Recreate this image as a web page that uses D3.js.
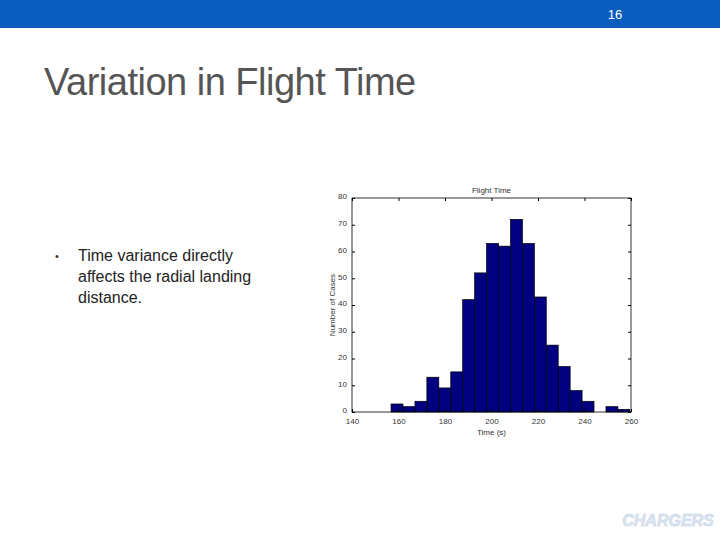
<!DOCTYPE html><html><head><meta charset="utf-8">
<script src="https://cdn.jsdelivr.net/npm/d3@7"></script>
<style>body{margin:0;background:#fff;font-family:"Liberation Sans",Arial,sans-serif}</style></head>
<body><svg id="s" width="720" height="540"></svg>
<script>
const binStart = 156.8, binWidth = 5.135;
const counts = [3,2,4,13,9,15,42,52,63,62,72,63,43,25,17,8,4,0,2,1];
const xTicks = [140,160,180,200,220,240,260];
const yTicks = [0,10,20,30,40,50,60,70,80];

const svg = d3.select("#s");
svg.append("rect").attr("width",720).attr("height",28).attr("fill","#0a5cbf");
svg.append("text").attr("x",615).attr("y",19).attr("fill","#fff").attr("font-size",13).attr("text-anchor","middle").text("16");
svg.append("text").attr("x",44).attr("y",95).attr("fill","#555").attr("font-size",38).attr("letter-spacing",-0.5).text("Variation in Flight Time");
const bl = ["Time variance directly","affects the radial landing","distance."];
svg.append("text").attr("x",55).attr("y",260).attr("font-size",11).attr("fill","#333").text("•");
bl.forEach((t,i)=>svg.append("text").attr("x",78).attr("y",261+i*21).attr("font-size",16).attr("fill","#222").text(t));

const L=352,R=631,T=198,B=412;
const x=d3.scaleLinear().domain([140,260]).range([L,R]);
const y=d3.scaleLinear().domain([0,80]).range([B,T]);
const g=svg.append("g");
g.selectAll("rect.b").data(counts).enter().append("rect")
 .attr("x",(d,i)=>x(binStart+i*binWidth)).attr("width",(d,i)=>x(binStart+(i+1)*binWidth)-x(binStart+i*binWidth))
 .attr("y",d=>y(d)).attr("height",d=>B-y(d)).attr("fill","#000080").attr("stroke","#000").attr("stroke-width",0.7);
g.append("rect").attr("x",L).attr("y",T).attr("width",R-L).attr("height",B-T).attr("fill","none").attr("stroke","#000").attr("stroke-width",0.8);
const xa=svg.append("g").attr("transform",`translate(0,${B})`).call(d3.axisBottom(x).tickValues(xTicks).tickSizeInner(-3).tickSizeOuter(0).tickPadding(6));
const xt=svg.append("g").attr("transform",`translate(0,${T})`).call(d3.axisTop(x).tickValues(xTicks).tickSizeInner(-3).tickSizeOuter(0).tickFormat(""));
const ya=svg.append("g").attr("transform",`translate(${L},0)`).call(d3.axisLeft(y).tickValues(yTicks).tickSizeInner(-3).tickSizeOuter(0).tickPadding(5));
const yr=svg.append("g").attr("transform",`translate(${R},0)`).call(d3.axisRight(y).tickValues(yTicks).tickSizeInner(-3).tickSizeOuter(0).tickFormat(""));
[xa,xt,ya,yr].forEach(a=>{a.select(".domain").remove();a.selectAll("text").attr("font-size",8).attr("fill","#333").attr("font-family","Liberation Sans");});
ya.selectAll("text").attr("dy","0.1em");
svg.append("text").attr("x",(L+R)/2).attr("y",193).attr("text-anchor","middle").attr("font-size",8).attr("fill","#333").text("Flight Time");
svg.append("text").attr("x",(L+R)/2).attr("y",435).attr("text-anchor","middle").attr("font-size",8).attr("fill","#333").text("Time (s)");
svg.append("text").attr("transform",`translate(335,${(T+B)/2}) rotate(-90)`).attr("text-anchor","middle").attr("font-size",8).attr("fill","#333").text("Number of Cases");
svg.append("text").attr("x",668).attr("y",526).attr("text-anchor","middle").attr("font-size",16).attr("font-style","italic").attr("font-weight","bold").attr("fill","#dde6f2").attr("stroke","#c5d3e8").attr("stroke-width",0.6).text("CHARGERS");
</script></body></html>
